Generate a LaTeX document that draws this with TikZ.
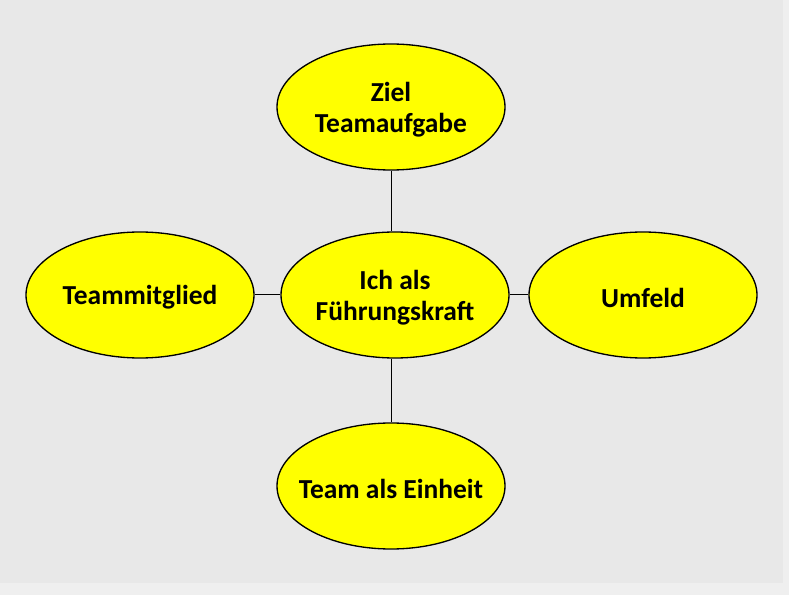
\documentclass[tikz,border=0pt]{standalone}
\usepackage{fontspec}
\setmainfont{Carlito}
\usetikzlibrary{shapes.geometric}
\definecolor{bgouter}{HTML}{EFEFEF}
\definecolor{bginner}{HTML}{E8E8E8}
\definecolor{ellfill}{HTML}{FFFF00}
\tikzset{
  bubble/.style={ellipse, draw=black, line width=1pt, fill=ellfill, minimum width=171pt, minimum height=94.5pt, inner sep=0pt},
  lbl/.style={inner sep=0pt, align=center, yshift=-2pt, font=\fontsize{20.6}{23.5}\selectfont\bfseries},
  link/.style={draw=black, line width=0.75pt}
}
\begin{document}
\begin{tikzpicture}[x=0.75pt,y=-0.75pt]
\fill[bgouter] (0,0) rectangle (789,595);
\fill[bginner] (0,0) rectangle (783,583);
\useasboundingbox (0,0) rectangle (789,595);
\node[bubble] (top) at (391,107) {};
\node[bubble] (mid) at (395,295) {};
\node[bubble] (left) at (140,295) {};
\node[bubble] (right) at (643,295) {};
\node[bubble] (bot) at (391,486) {};
\node[lbl] (topt) at (top) {Ziel\\Teamaufgabe};
\node[lbl] (midt) at (mid) {Ich als\\Führungskraft};
\node[lbl] (leftt) at (left) {Teammitglied};
\node[lbl] (rightt) at (right) {Umfeld};
\node[lbl] (bott) at (bot) {Team als Einheit};
\draw[link] (top.south) -- (top.south |- mid.north);
\draw[link] (bot.north) -- (bot.north |- mid.south);
\draw[link] (left) -- (mid);
\draw[link] (mid) -- (right);
\end{tikzpicture}
\end{document}
